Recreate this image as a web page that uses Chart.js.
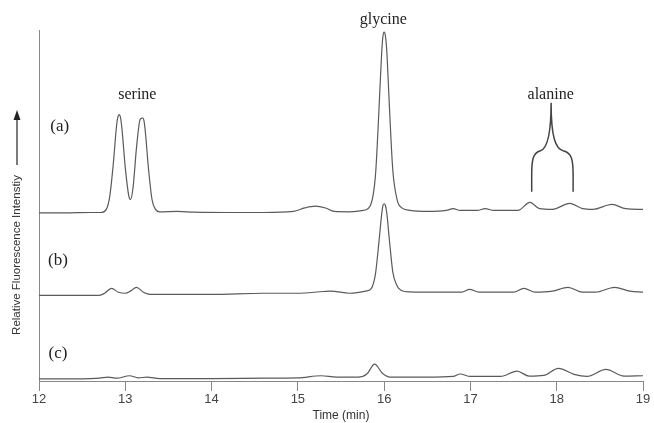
<!DOCTYPE html>
<html>
<head>
<meta charset="utf-8">
<script src="https://cdn.jsdelivr.net/npm/chart.js@4"></script>
<style>
  body { margin: 0; background: #fff; }
  canvas { display: block; }
</style>
</head>
<body>
<canvas id="chart" width="654" height="423"></canvas>
<script>
// Chromatogram traces, time in minutes, relative fluorescence (traces stacked)
const timeA = [12.00, 12.30, 12.60, 12.72, 12.78, 12.82, 12.86, 12.90, 12.915, 12.93, 12.945, 12.96, 13.00, 13.04, 13.06, 13.09, 13.13, 13.17, 13.185, 13.20, 13.215, 13.23, 13.27, 13.31, 13.35, 13.40, 13.60, 13.80, 14.20, 14.60, 14.95, 15.08, 15.20, 15.32, 15.42, 15.60, 15.76, 15.84, 15.90, 15.94, 15.97, 15.985, 16.00, 16.015, 16.03, 16.06, 16.10, 16.15, 16.20, 16.30, 16.50, 16.72, 16.80, 16.88, 17.08, 17.17, 17.27, 17.55, 17.69, 17.80, 17.95, 18.15, 18.30, 18.42, 18.64, 18.80, 19.00];
const traceA = [47.9, 47.9, 48.0, 48.0, 48.9, 52.6, 61.6, 73.0, 75.3, 75.9, 75.0, 72.2, 60.8, 52.8, 51.7, 55.1, 66.5, 74.4, 74.8, 75.0, 74.3, 71.6, 60.2, 51.7, 48.9, 48.2, 48.3, 48.1, 48.0, 48.0, 48.3, 49.3, 49.8, 49.3, 48.3, 48.2, 48.6, 50.0, 58.8, 77.3, 92.9, 98.0, 99.4, 98.3, 94.3, 78.7, 60.2, 51.7, 49.4, 48.6, 48.3, 48.6, 49.1, 48.6, 48.6, 49.1, 48.6, 48.6, 50.9, 49.1, 48.9, 50.6, 49.1, 48.9, 50.3, 49.1, 48.9];

const timeB = [12.00, 12.40, 12.70, 12.76, 12.84, 12.92, 13.00, 13.06, 13.13, 13.21, 13.29, 13.60, 14.00, 14.60, 15.00, 15.30, 15.38, 15.60, 15.80, 15.85, 15.90, 15.94, 15.97, 15.985, 16.00, 16.015, 16.03, 16.06, 16.10, 16.15, 16.20, 16.30, 16.60, 16.90, 16.99, 17.10, 17.50, 17.62, 17.75, 17.95, 18.13, 18.30, 18.45, 18.67, 18.85, 19.00];
const traceB = [24.4, 24.4, 24.4, 25.0, 26.4, 25.3, 25.0, 25.6, 26.7, 25.3, 24.7, 24.7, 24.7, 25.0, 25.0, 25.5, 25.6, 25.0, 25.7, 26.3, 30.6, 39.7, 47.2, 49.9, 50.5, 50.0, 48.0, 40.4, 31.1, 27.1, 25.8, 25.4, 25.3, 25.3, 26.1, 25.3, 25.3, 26.4, 25.3, 25.6, 26.7, 25.3, 25.3, 26.7, 25.6, 25.3];

const timeC = [12.00, 12.50, 12.70, 12.80, 12.90, 13.05, 13.15, 13.25, 13.40, 14.00, 14.60, 15.00, 15.27, 15.45, 15.70, 15.80, 15.89, 15.98, 16.07, 16.50, 16.80, 16.88, 17.00, 17.35, 17.54, 17.68, 17.85, 18.02, 18.20, 18.35, 18.57, 18.78, 19.00];
const traceC = [0.6, 0.6, 0.8, 1.1, 0.8, 1.5, 0.9, 1.1, 0.7, 0.7, 0.8, 0.9, 1.5, 1.1, 1.1, 2.0, 4.8, 2.2, 1.1, 1.1, 1.3, 2.0, 1.3, 1.3, 2.8, 1.4, 1.6, 3.6, 1.9, 1.3, 3.3, 1.4, 1.5];

const xTicks = [12, 13, 14, 15, 16, 17, 18, 19];

// Peak names and trace labels, anchored in data coordinates
const peakNames = ['serine', 'glycine', 'alanine'];
const peakTimes = [13.14, 15.99, 17.93];
const peakLevels = [81.5, 102.8, 81.5];
const traceLabels = ['(a)', '(b)', '(c)'];
const traceLabelTimes = [12.24, 12.22, 12.22];
const traceLabelLevels = [72.4, 34.4, 7.7];

// Brace grouping the two alanine candidates
const braceLeft = 17.71, braceTip = 17.935, braceRight = 18.19;
const braceTop = 79.3, braceShoulder = 65.6, braceBottom = 53.9;

function toPoints(xs, ys) {
  return xs.map((x, i) => ({ x: x, y: ys[i] }));
}

const traceStyle = {
  borderColor: '#5a5a5a',
  borderWidth: 1.2,
  pointRadius: 0,
  fill: false,
  cubicInterpolationMode: 'monotone'
};

// Draw annotations, brace and the y axis label with arrow
const annotations = {
  id: 'annotations',
  afterDraw(chart) {
    const ctx = chart.ctx;
    const xs = chart.scales.x;
    const ys = chart.scales.y;
    ctx.save();
    ctx.fillStyle = '#222';
    ctx.textAlign = 'center';
    ctx.textBaseline = 'middle';
    ctx.font = '16px "Liberation Serif", "Times New Roman", serif';
    peakNames.forEach((name, i) => {
      ctx.fillText(name, xs.getPixelForValue(peakTimes[i]), ys.getPixelForValue(peakLevels[i]));
    });
    ctx.font = '17px "Liberation Serif", "Times New Roman", serif';
    traceLabels.forEach((lab, i) => {
      ctx.fillText(lab, xs.getPixelForValue(traceLabelTimes[i]), ys.getPixelForValue(traceLabelLevels[i]));
    });

    // brace
    const l = xs.getPixelForValue(braceLeft);
    const t = xs.getPixelForValue(braceTip);
    const r = xs.getPixelForValue(braceRight);
    const yt = ys.getPixelForValue(braceTop);
    const ysh = ys.getPixelForValue(braceShoulder);
    const yb = ys.getPixelForValue(braceBottom);
    const half = (t - l);
    ctx.strokeStyle = '#444';
    ctx.lineWidth = 1.5;
    ctx.beginPath();
    ctx.moveTo(t, yt);
    ctx.bezierCurveTo(t, ysh - 12, t - half * 0.25, ysh - 2, t - half * 0.55, ysh);
    ctx.bezierCurveTo(l + 1, ysh + 2, l, ysh + 10, l, ysh + 24);
    ctx.lineTo(l, yb);
    ctx.moveTo(t, yt);
    ctx.bezierCurveTo(t, ysh - 12, t + half * 0.25, ysh - 2, t + (r - t) * 0.55, ysh);
    ctx.bezierCurveTo(r - 1, ysh + 2, r, ysh + 10, r, ysh + 24);
    ctx.lineTo(r, yb);
    ctx.stroke();

    // y axis label with arrow
    const ax = 17;
    ctx.save();
    ctx.translate(ax, 255);
    ctx.rotate(-Math.PI / 2);
    ctx.font = '11.5px "Liberation Sans", Arial, sans-serif';
    ctx.fillStyle = '#333';
    ctx.fillText('Relative Fluorescence Intenstiy', 0, 0);
    ctx.restore();
    ctx.strokeStyle = '#222';
    ctx.lineWidth = 1.2;
    ctx.beginPath();
    ctx.moveTo(ax, 165);
    ctx.lineTo(ax, 118);
    ctx.stroke();
    ctx.fillStyle = '#222';
    ctx.beginPath();
    ctx.moveTo(ax, 110);
    ctx.lineTo(ax - 3.5, 120);
    ctx.lineTo(ax + 3.5, 120);
    ctx.closePath();
    ctx.fill();
    ctx.restore();
  }
};

new Chart(document.getElementById('chart'), {
  type: 'line',
  data: {
    datasets: [
      Object.assign({ label: '(a)', data: toPoints(timeA, traceA) }, traceStyle),
      Object.assign({ label: '(b)', data: toPoints(timeB, traceB) }, traceStyle),
      Object.assign({ label: '(c)', data: toPoints(timeC, traceC) }, traceStyle)
    ]
  },
  options: {
    responsive: false,
    animation: false,
    devicePixelRatio: 1,
    clip: false,
    layout: { padding: { left: 39, right: 11, top: 30, bottom: 0 } },
    plugins: {
      legend: { display: false },
      tooltip: { enabled: false }
    },
    scales: {
      x: {
        type: 'linear',
        min: 12,
        max: 19,
        afterBuildTicks: axis => { axis.ticks = xTicks.map(v => ({ value: v })); },
        grid: { drawOnChartArea: false, drawTicks: true, tickLength: 10, color: '#888' },
        border: { color: '#888', width: 1 },
        ticks: {
          padding: 1,
          color: '#444',
          maxRotation: 0,
          font: { family: '"Liberation Sans", Arial, sans-serif', size: 13 }
        },
        title: {
          display: true,
          text: 'Time (min)',
          color: '#333',
          padding: { top: 0, bottom: 0 },
          font: { family: '"Liberation Sans", Arial, sans-serif', size: 12 }
        }
      },
      y: {
        min: 0,
        max: 100,
        grid: { display: false, drawTicks: false },
        border: { color: '#888', width: 1 },
        ticks: { display: false }
      }
    }
  },
  plugins: [annotations]
});
</script>
</body>
</html>
